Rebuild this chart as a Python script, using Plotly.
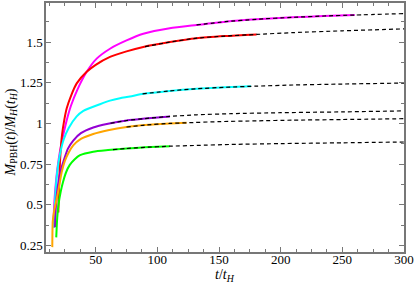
import plotly.graph_objects as go

# ---- data ----
mag_t = [15.6, 16.5, 18, 20, 22.5, 24.3, 26.5, 30, 35, 42.7, 50.8, 61.6, 75, 88.6, 110, 131.8, 155, 180.5, 210, 235, 260]
mag_v = [0.36, 0.52, 0.66, 0.78, 0.89, 0.95, 1.02, 1.11, 1.205, 1.317, 1.398, 1.459, 1.51, 1.551, 1.585, 1.605, 1.625, 1.64, 1.652, 1.66, 1.666]
mag_fit_t = [131.8, 155, 180.5, 210, 235, 260, 300]
mag_fit_v = [1.605, 1.625, 1.64, 1.652, 1.66, 1.666, 1.675]

red_t = [19.7, 20.3, 21.3, 22.7, 24.5, 26.5, 30, 34.6, 42.7, 50, 61.6, 75, 88.6, 110.2, 131.8, 155, 180.5]
red_v = [0.453, 0.62, 0.80, 0.93, 1.02, 1.093, 1.17, 1.246, 1.317, 1.36, 1.409, 1.443, 1.47, 1.5, 1.524, 1.537, 1.547]
red_fit_t = [90, 110.2, 131.8, 155, 180.5, 210, 250, 300]
red_fit_v = [1.472, 1.5, 1.524, 1.537, 1.547, 1.558, 1.569, 1.581]

cya_t = [16.2, 17.2, 18.8, 21, 24, 28, 34.6, 40, 53.5, 61.6, 69.7, 77.8, 88.6, 110, 131.8, 155, 176]
cya_v = [0.36, 0.55, 0.70, 0.81, 0.90, 0.97, 1.043, 1.077, 1.118, 1.14, 1.155, 1.165, 1.182, 1.2, 1.213, 1.222, 1.228]
cya_fit_t = [88, 110, 131.8, 155, 180, 210, 250, 300]
cya_fit_v = [1.182, 1.2, 1.213, 1.222, 1.229, 1.236, 1.242, 1.248]

pur_t = [17, 17.8, 19.2, 21.3, 24, 27.5, 31.8, 38, 48, 60, 75.1, 90, 110.2]
pur_v = [0.362, 0.5, 0.61, 0.70, 0.77, 0.845, 0.895, 0.94, 0.975, 0.998, 1.018, 1.03, 1.043]
pur_fit_t = [62, 75.1, 90, 110.2, 131.8, 160, 200, 250, 300]
pur_fit_v = [1.001, 1.018, 1.03, 1.043, 1.053, 1.06, 1.066, 1.071, 1.077]

ora_t = [14.8, 15.2, 16.5, 18.5, 20.5, 22.4, 25, 28, 31.8, 38, 48, 60, 75.1, 90, 110, 123.7]
ora_v = [0.24, 0.40, 0.47, 0.54, 0.62, 0.70, 0.77, 0.82, 0.865, 0.905, 0.935, 0.958, 0.978, 0.99, 1.0, 1.004]
ora_fit_t = [75, 90, 110, 123.7, 150, 180.5, 210, 250, 300]
ora_fit_v = [0.978, 0.99, 1.0, 1.004, 1.011, 1.016, 1.02, 1.024, 1.029]

gre_t = [18, 18.8, 20, 21.6, 23.5, 26, 29, 33, 37.3, 48, 60, 75.1, 90, 110]
gre_v = [0.30, 0.42, 0.51, 0.58, 0.64, 0.70, 0.745, 0.78, 0.805, 0.826, 0.836, 0.846, 0.853, 0.86]
gre_fit_t = [64, 75.1, 90, 110, 131.8, 160, 200, 250, 300]
gre_fit_v = [0.839, 0.846, 0.853, 0.86, 0.865, 0.871, 0.876, 0.881, 0.886]

y_tickvals = [0.25, 0.5, 0.75, 1, 1.25, 1.5]
y_ticktext = ["0.25", "0.5", "0.75", "1", "1.25", "1.5"]
x_tickvals = [50, 100, 150, 200, 250, 300]

x_title = "<i>t</i>/<i>t<sub>H</sub></i>"
y_title = "<i>M</i><sub>PBH</sub>(<i>t</i>)/<i>M<sub>H</sub></i>(<i>t<sub>H</sub></i>)"

curves = [
    (mag_t, mag_v, mag_fit_t, mag_fit_v, "#ff00ff"),
    (red_t, red_v, red_fit_t, red_fit_v, "#ff0000"),
    (cya_t, cya_v, cya_fit_t, cya_fit_v, "#00ffff"),
    (pur_t, pur_v, pur_fit_t, pur_fit_v, "#9400d3"),
    (ora_t, ora_v, ora_fit_t, ora_fit_v, "#ffa500"),
    (gre_t, gre_v, gre_fit_t, gre_fit_v, "#00ff00"),
]

fig = go.Figure()
for t, v, ft, fv, c in curves:
    fig.add_trace(go.Scatter(x=t, y=v, mode="lines",
                             line=dict(color=c, width=2, shape="spline", smoothing=0.6),
                             showlegend=False, hoverinfo="skip"))
for t, v, ft, fv, c in curves:
    fig.add_trace(go.Scatter(x=ft, y=fv, mode="lines",
                             line=dict(color="black", width=1.2, dash="4px,3px", shape="spline", smoothing=0.6),
                             showlegend=False, hoverinfo="skip"))

serif = "Liberation Serif, DejaVu Serif, Times New Roman, serif"
font = dict(family=serif, size=13, color="black")
tickfont = dict(family="Liberation Serif", size=13, color="black")
axis_common = dict(ticks="inside", ticklen=5, tickcolor="#777", tickwidth=1,
                   showline=True, linecolor="#777", linewidth=1.5, tickfont=tickfont,
                   mirror="allticks", showgrid=False, zeroline=False)
fig.update_layout(
    width=415, height=284,
    margin=dict(l=46, r=11, t=1, b=32),
    paper_bgcolor="white", plot_bgcolor="white",
    font=font,
    xaxis=dict(range=[9.7, 300], tickvals=x_tickvals, ticklabelstandoff=-5,
               minor=dict(tick0=0, dtick=12.5, ticks="inside", ticklen=3, tickcolor="#777", showgrid=False),
               **axis_common),
    yaxis=dict(range=[0.21, 1.74], tickvals=y_tickvals, ticktext=y_ticktext, ticklabelstandoff=-1,
               minor=dict(tick0=0, dtick=0.125, ticks="inside", ticklen=3, tickcolor="#777", showgrid=False),
               **axis_common),
    annotations=[
        dict(text=x_title, xref="paper", yref="paper", x=0.5, y=0, yshift=-23,
             xanchor="center", yanchor="middle", showarrow=False, font=dict(family=serif, size=14)),
        dict(text=y_title, xref="paper", yref="paper", x=0, y=0.48, xshift=-35,
             xanchor="center", yanchor="middle", textangle=-90, showarrow=False,
             font=dict(family=serif, size=14)),
    ],
)
fig.write_html("out.html", config={"displayModeBar": False},
               post_script="document.body.style.margin='0';document.body.style.overflow='hidden';")
